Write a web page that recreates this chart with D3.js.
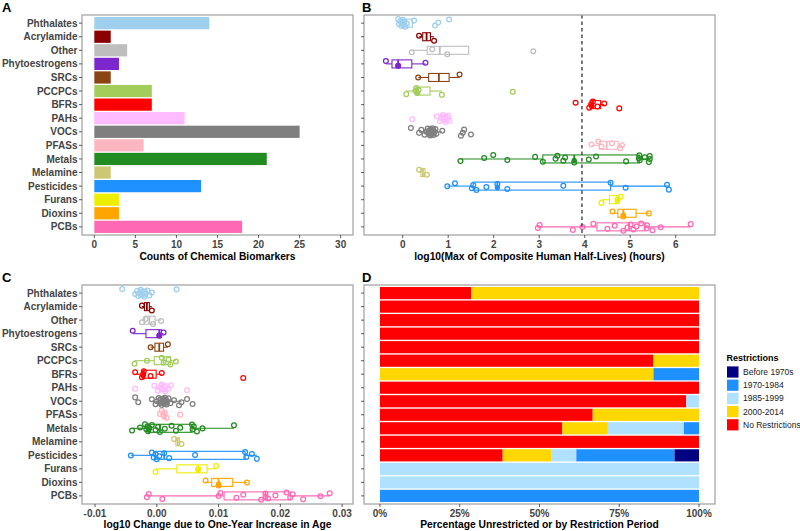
<!DOCTYPE html>
<html><head><meta charset="utf-8">
<script src="https://cdn.jsdelivr.net/npm/d3@7"></script>
<style>body{margin:0;background:#fff}svg{display:block;font-family:"Liberation Sans",Arial,sans-serif}</style>
</head><body><svg id="c" width="800" height="531"></svg>
<script>
const categories = ["Phthalates","Acrylamide","Other","Phytoestrogens","SRCs","PCCPCs","BFRs","PAHs","VOCs","PFASs","Metals","Melamine","Pesticides","Furans","Dioxins","PCBs"];
const colors = ["#9ECFEC","#8B0000","#BEBEBE","#7D26CD","#8B4513","#A2CD5A","#FF0000","#FFBBFF","#7F7F7F","#FFB6C1","#228B22","#CDC673","#1E90FF","#EEEE00","#FFA500","#FF69B4"];

// Panel A: counts
const counts = [14,2,4,3,2,7,7,11,25,6,21,2,13,3,3,18];
const ticksA = [0,5,10,15,20,25,30];

// Panel B: log10 half-lives (hours)
const ptsB = [
 [-0.1,-0.08,-0.05,-0.03,-0.01,0.0,0.02,0.04,0.06,0.09,0.25,0.71,0.78,1.02],
 [0.36,0.69],
 [0.2,0.65,0.98,2.87],
 [-0.37,-0.1,0.5],
 [0.34,1.25],
 [0.08,0.28,0.3,0.32,0.35,0.86,2.42],
 [3.80,4.10,4.14,4.18,4.28,4.43,4.76],
 [0.21,0.75,0.82,0.85,0.88,0.9,0.92,0.95,0.98,1.0,1.03],
 [0.18,0.36,0.41,0.48,0.52,0.55,0.57,0.58,0.6,0.61,0.62,0.63,0.64,0.65,0.66,0.67,0.68,0.7,0.72,0.74,0.87,1.28,1.32,1.35,1.5],
 [4.15,4.3,4.37,4.6,4.78,4.82],
 [1.27,1.79,1.99,2.30,2.91,3.08,3.36,3.40,3.53,3.57,3.77,4.09,4.25,4.91,5.19,5.2,5.21,5.32,5.41,5.43,5.43],
 [0.36,0.53],
 [0.98,1.15,1.52,1.55,1.62,1.84,2.08,2.3,3.53,4.57,4.9,5.81,5.85],
 [4.37,4.72,4.79],
 [4.61,4.85,5.41],
 [2.97,3.01,3.74,3.95,4.19,4.50,4.66,4.85,4.94,5.01,5.07,5.14,5.24,5.36,5.37,5.49,5.67,6.33]
];
// [lower whisker, q1, median, q3, upper whisker]
const boxB = [
 [-0.1,-0.025,0.03,0.21,0.25],[0.36,0.44,0.525,0.61,0.69],[0.2,0.54,0.815,1.45,1.45],[-0.37,-0.235,-0.1,0.2,0.5],
 [0.34,0.57,0.795,1.02,1.25],[0.08,0.29,0.32,0.6,0.86],[4.10,4.12,4.18,4.35,4.43],[0.82,0.85,0.92,0.99,1.03],
 [0.36,0.57,0.64,0.72,0.87],[4.15,4.32,4.485,4.735,4.82],[1.27,3.08,3.77,5.2,5.43],[0.36,0.4,0.445,0.49,0.53],
 [0.98,1.55,2.08,4.57,5.85],[4.37,4.545,4.72,4.755,4.79],[4.61,4.73,4.85,5.13,5.41],[2.97,4.27,4.975,5.33,6.33]
];
const markB = [null,null,null,-0.1,null,0.32,4.16,null,0.62,null,3.77,null,2.08,4.72,4.85,null];
const ticksB = [0,1,2,3,4,5,6];
const refLineB = 3.94;

// Panel C: log10 change per one-year increase in age
const ptsC = [
 [-0.0056,-0.0035,-0.0032,-0.003,-0.0028,-0.0026,-0.0024,-0.0022,-0.002,-0.0018,-0.0015,-0.0012,-0.0008,0.0032],
 [-0.0024,-0.0008],
 [-0.0024,-0.0018,-0.0006,0.0007],
 [-0.0039,0.0004,0.0011],
 [-0.001,0.0018],
 [-0.0036,-0.0016,0.0008,0.0011,0.0019,0.0022,0.0031],
 [-0.0035,-0.0024,-0.0022,-0.0021,-0.001,0.0008,0.014],
 [-0.0035,-0.0004,0.0002,0.0006,0.0008,0.001,0.0012,0.0014,0.0019,0.0023,0.0049],
 [-0.0035,-0.003,-0.0008,-0.0002,0.0,0.0003,0.0005,0.0006,0.0008,0.0009,0.001,0.0011,0.0012,0.0013,0.0014,0.0015,0.0016,0.0017,0.0019,0.0022,0.0028,0.0036,0.004,0.0049,0.0058],
 [0.0005,0.0008,0.0011,0.0013,0.0016,0.0038],
 [-0.004,-0.0027,-0.0019,-0.0017,-0.0015,-0.0014,-0.0012,-0.0008,-0.0002,0.0002,0.0005,0.0013,0.0024,0.0031,0.0038,0.0057,0.0058,0.006,0.0065,0.0074,0.0125],
 [0.0028,0.004],
 [-0.0042,-0.0008,-0.0005,-0.0002,0.0,0.0004,0.0012,0.002,0.0062,0.0143,0.0145,0.0154,0.0162],
 [-0.0002,0.0067,0.0096],
 [0.0079,0.01,0.0146],
 [-0.0016,-0.0013,0.0009,0.01,0.0103,0.0129,0.014,0.0169,0.0176,0.0176,0.018,0.0192,0.021,0.0216,0.022,0.0237,0.0265,0.028]
];
const boxC = [
 [-0.0035,-0.0029,-0.0023,-0.0016,-0.0008],[-0.0024,-0.002,-0.0016,-0.0012,-0.0008],[-0.0024,-0.00195,-0.0012,-0.00028,0.0007],
 [-0.0039,-0.00175,0.0004,0.00075,0.0011],[-0.001,-0.0003,0.0004,0.0011,0.0018],[-0.0036,-0.0004,0.0011,0.0022,0.0031],
 [-0.0035,-0.00225,-0.0021,-0.0001,0.0008],[-0.0004,0.0004,0.001,0.00165,0.0023],[-0.0008,0.0003,0.001,0.0017,0.004],
 [0.0005,0.00087,0.0012,0.00153,0.0016],[-0.004,-0.0014,0.0005,0.0057,0.0125],[0.0028,0.0031,0.0034,0.0037,0.004],
 [-0.0042,-0.0002,0.0012,0.0143,0.0162],[-0.0002,0.00325,0.0067,0.00815,0.0096],[0.0079,0.0089,0.01,0.0123,0.0146],
 [-0.0016,0.0109,0.0176,0.0216,0.028]
];
const markC = [null,null,null,0.0004,null,null,-0.0022,null,0.0011,null,-0.0013,null,null,0.0067,0.01,null];
const ticksC = [-0.01,0,0.01,0.02,0.03];
const tickLabelsC = ["-0.01","0.00","0.01","0.02","0.03"];

// Panel D: restriction counts
const levels = ["Before 1970s","1970-1984","1985-1999","2000-2014","No Restrictions"];
const levelColors = ["#000080","#1E90FF","#B0E2FF","#FFD700","#FF0000"];
const noRestr  = [4,2,4,3,2,6,0,11,24,4,12,2,5,0,0,0];
const r2000    = [10,0,0,0,0,1,6,0,0,2,3,0,2,0,0,0];
const r1985    = [0,0,0,0,0,0,0,0,1,0,5,0,1,3,3,0];
const r1970    = [0,0,0,0,0,0,1,0,0,0,1,0,4,0,0,18];
const rBefore  = [0,0,0,0,0,0,0,0,0,0,0,0,1,0,0,0];
const ticksD = [0,0.25,0.5,0.75,1];
const tickLabelsD = ["0%","25%","50%","75%","100%"];

// ---------------------------------------------------------------
const svg = d3.select("#c");
const P = {A:{x0:82,x1:353,y0:15,y1:235}, B:{x0:364,x1:715,y0:15,y1:235},
           C:{x0:82,x1:353,y0:285,y1:504}, D:{x0:364,x1:715,y0:285,y1:504}};
const tickCol = "#333", labCol = "#444", borderCol = "#A6A6A6";

function yScale(p){
  const step = (p.y1-p.y0)/16.2;
  return d3.scalePoint().domain(categories).range([p.y0+0.6*step, p.y1-0.6*step]);
}
function frame(p, x, ticks, labels, yS, showLabels, labOff){
  const g = svg.append("g");
  g.selectAll(".yt").data(categories).join("line")
    .attr("x1",p.x0-3).attr("x2",p.x0).attr("y1",d=>yS(d)).attr("y2",d=>yS(d))
    .attr("stroke",tickCol).attr("stroke-width",0.8);
  if(showLabels){
    g.selectAll(".yl").data(categories).join("text")
      .attr("x",p.x0-4.5).attr("y",d=>yS(d)).attr("dy","0.36em")
      .attr("text-anchor","end").attr("font-size","10px").attr("font-weight","bold")
      .attr("fill",labCol).text(d=>d);
  }
  g.selectAll(".xt").data(ticks).join("line")
    .attr("x1",d=>x(d)).attr("x2",d=>x(d)).attr("y1",p.y1).attr("y2",p.y1+3)
    .attr("stroke",tickCol).attr("stroke-width",0.8);
  g.selectAll(".xl").data(ticks).join("text")
    .attr("x",d=>x(d)).attr("y",p.y1+labOff).attr("text-anchor","middle")
    .attr("font-size","10px").attr("font-weight","bold").attr("fill",labCol)
    .text((d,i)=>labels[i]);
  return g;
}
function border(p){
  svg.append("rect").attr("x",p.x0).attr("y",p.y0).attr("width",p.x1-p.x0).attr("height",p.y1-p.y0)
    .attr("fill","none").attr("stroke",borderCol).attr("stroke-width",1.3);
}
function title(txt,p,y){
  svg.append("text").attr("x",(p.x0+p.x1)/2).attr("y",y).attr("text-anchor","middle")
    .attr("font-size","10.3px").attr("font-weight","bold").attr("fill","#000").text(txt);
}
function letter(t,x,y){
  svg.append("text").attr("x",x).attr("y",y).attr("font-size","13px").attr("font-weight","bold").attr("fill","#000").text(t);
}

// ---------- Panel A
{
  const p=P.A, yS=yScale(p), step=(p.y1-p.y0)/16.2;
  const x=d3.scaleLinear().domain([-1.5,31.5]).range([p.x0,p.x1]);
  svg.append("g").selectAll("rect").data(categories).join("rect")
    .attr("x",x(0)).attr("y",d=>yS(d)-0.45*step).attr("height",0.9*step)
    .attr("width",(d,i)=>x(counts[i])-x(0)).attr("fill",(d,i)=>colors[i]);
  border(p);
  frame(p,x,ticksA,ticksA.map(String),yS,true,12.5);
  title("Counts of Chemical Biomarkers",p,259.5);
  letter("A",2,12);
}

function jit(i,k){ return (((i*0.6180339887 + k*0.377) % 1) - 0.5) * 8; }

function boxPanel(p, x, pts, boxes, marks){
  const yS=yScale(p);
  const g=svg.append("g");
  categories.forEach((c,k)=>{
    const b=boxes[k], y=yS(c), col=colors[k], h=8;
    g.append("line").attr("x1",x(b[0])).attr("x2",x(b[1])).attr("y1",y).attr("y2",y).attr("stroke",col).attr("stroke-width",1.1);
    g.append("line").attr("x1",x(b[3])).attr("x2",x(b[4])).attr("y1",y).attr("y2",y).attr("stroke",col).attr("stroke-width",1.1);
    g.append("rect").attr("x",x(b[1])).attr("y",y-h/2).attr("width",Math.max(0.5,x(b[3])-x(b[1]))).attr("height",h)
      .attr("fill","#fff").attr("stroke",col).attr("stroke-width",1.1);
    g.append("line").attr("x1",x(b[2])).attr("x2",x(b[2])).attr("y1",y-h/2).attr("y2",y+h/2).attr("stroke",col).attr("stroke-width",1.8);
  });
  categories.forEach((c,k)=>{
    const y=yS(c), col=colors[k];
    g.selectAll(null).data(pts[k]).join("circle")
      .attr("cx",d=>x(d)).attr("cy",(d,i)=>y+jit(i,k)).attr("r",2.4)
      .attr("fill","none").attr("stroke",col).attr("stroke-width",1.25);
    if(marks[k]!==null){
      g.append("circle").attr("cx",x(marks[k])).attr("cy",y+1.5).attr("r",2.6).attr("fill",col);
    }
  });
  return yS;
}

// ---------- Panel B
{
  const p=P.B;
  const x=d3.scaleLinear().domain([-0.8505,6.864]).range([p.x0,p.x1]);
  const yS=boxPanel(p,x,ptsB,boxB,markB);
  svg.append("line").attr("x1",x(refLineB)).attr("x2",x(refLineB)).attr("y1",p.y0).attr("y2",p.y1)
    .attr("stroke","#333").attr("stroke-width",1.3).attr("stroke-dasharray","3.5,3");
  border(p);
  frame(p,x,ticksB,ticksB.map(String),yS,false,12.5);
  title("log10(Max of Composite Human Half-Lives) (hours)",p,259.5);
  letter("B",362,12);
}

// ---------- Panel C
{
  const p=P.C;
  const x=d3.scaleLinear().domain([-0.012107,0.031767]).range([p.x0,p.x1]);
  const yS=boxPanel(p,x,ptsC,boxC,markC);
  border(p);
  frame(p,x,ticksC,tickLabelsC,yS,true,13.3);
  title("log10 Change due to One-Year Increase in Age",p,527.5);
  letter("C",2,282);
}

// ---------- Panel D
{
  const p=P.D, yS=yScale(p), step=(p.y1-p.y0)/16.2;
  const x=d3.scaleLinear().domain([-0.05,1.05]).range([p.x0,p.x1]);
  const rows=categories.map((c,i)=>({cat:c,"No Restrictions":noRestr[i],"2000-2014":r2000[i],"1985-1999":r1985[i],"1970-1984":r1970[i],"Before 1970s":rBefore[i]}));
  const keys=["No Restrictions","2000-2014","1985-1999","1970-1984","Before 1970s"];
  const stack=d3.stack().keys(keys).offset(d3.stackOffsetExpand)(rows);
  const colOf=d3.scaleOrdinal().domain(levels).range(levelColors);
  svg.append("g").selectAll("g").data(stack).join("g").attr("fill",s=>colOf(s.key))
    .selectAll("rect").data(s=>s).join("rect")
    .attr("x",d=>x(d[0])).attr("width",d=>x(d[1])-x(d[0]))
    .attr("y",d=>yS(d.data.cat)-0.45*step).attr("height",0.9*step);
  border(p);
  frame(p,x,ticksD,tickLabelsD,yS,false,13.3);
  title("Percentage Unrestricted or by Restriction Period",p,527.5);
  letter("D",362,282);
  const lg=svg.append("g");
  lg.append("text").attr("x",726.5).attr("y",360.5).attr("font-size","9px").attr("font-weight","bold").text("Restrictions");
  levels.forEach((l,i)=>{
    const cy=372+i*13.2;
    lg.append("rect").attr("x",727).attr("y",cy-5.6).attr("width",11.5).attr("height",11.2).attr("fill",levelColors[i]);
    lg.append("text").attr("x",743).attr("y",cy).attr("dy","0.35em").attr("font-size","8.5px").attr("fill","#1a1a1a").text(l);
  });
}
</script></body></html>
